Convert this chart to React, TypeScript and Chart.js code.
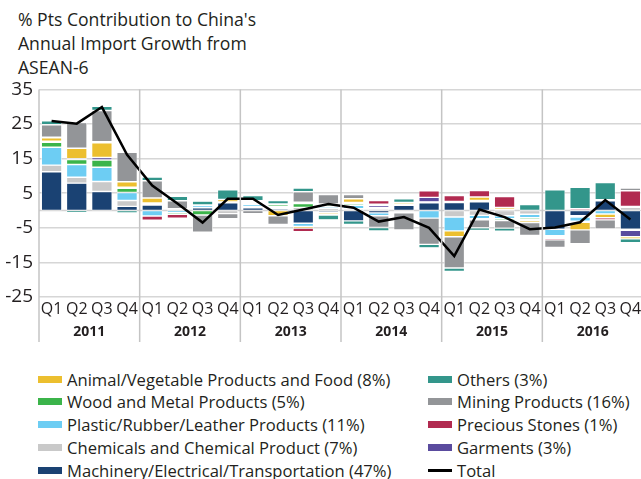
import React, { useEffect, useRef } from "react";
import { Chart, registerables } from "chart.js";

Chart.register(...registerables);

const quarters = [
  "Q1", "Q2", "Q3", "Q4", "Q1", "Q2", "Q3", "Q4", "Q1", "Q2", "Q3", "Q4",
  "Q1", "Q2", "Q3", "Q4", "Q1", "Q2", "Q3", "Q4", "Q1", "Q2", "Q3", "Q4",
];
const years = ["2011", "2012", "2013", "2014", "2015", "2016"];
const yTicks = { min: -25, max: 35, step: 10 };

const machinery = [11.2, 7.9, 5.5, 1.2, 1.6, 0.2, 0.8, 2.2, 0.8, 0.5, -3.7, -0.5, -3.0, -0.7, 1.5, 2.2, 2.3, 2.5, 0.4, 0, -5.4, -1.5, 2.8, -5.4];
const chemicals = [1.9, 1.7, 2.9, 1.7, 0.3, 0, 0, -0.9, 0.4, 0.4, 0.9, 0.6, 0.5, 0.5, 0.3, 0.3, -1.9, -1.4, -1.5, -1.1, 0, -0.4, 0, 0.9];
const plastic = [5.2, 3.7, 4.1, 2.3, -1.6, -0.6, 0.6, 0.3, 0.6, 0.3, -0.9, 0.5, 1.0, -0.8, -0.3, -2.2, -4.0, -1.0, -0.9, -1.0, -1.9, -1.2, -1.0, -0.3];
const wood = [1.4, 1.4, 2.1, 1.2, 0, -0.5, -1.3, 0, 0, 0.5, 1.1, 0.5, 0.5, 0.3, -0.4, 0, 0, -0.3, -0.5, -0.5, 0, -0.3, 0, 0.3];
const garments = [0.3, 0.3, 0.7, 0.3, 0.3, 0, 0.2, 0, 0.3, 0.2, 0.4, 0.3, 0.3, 0.6, 0, 1.3, 0.3, 0.4, 0, -0.4, -0.3, 0, 0.3, -1.9];
const animal = [1.0, 3.0, 4.3, 1.6, 1.4, 0.3, 0, 0.7, 0.4, -1.5, -0.5, -0.5, 1.1, 0.4, 0.5, 0, -1.7, 1.0, 0.5, -0.5, -0.4, -2.2, -1.1, -0.6];
const precious = [0.2, 0, 0.3, 0, -1.2, -1.1, 0, 0, 0.3, 0, -1.0, -0.3, 0, 1.1, 0, 1.9, 1.7, 1.9, 3.1, 0, -0.5, 0.5, -0.6, 4.5];
const mining = [3.6, 7.4, 9.0, 8.5, 5.0, 2.3, -5.0, -1.5, -0.9, -2.5, 3.0, 2.7, 1.2, -3.4, -4.9, -7.6, -9.0, -2.3, -2.2, -3.7, -2.2, -4.0, -2.6, 0.8];
const others = [1.1, -0.6, 1.2, -0.7, 1.1, 1.3, 1.1, 2.8, 1.5, 1.0, 1.1, -1.4, -1.0, -1.0, 1.1, -1.0, -1.0, -0.8, -0.9, 1.7, 6.0, 6.2, 5.0, -1.1];
const total = [25.9, 25.1, 29.9, 16.1, 7.2, 2.0, -3.5, 3.4, 3.4, -1.3, 0.3, 1.9, 0.8, -3.2, -1.9, -5.0, -13.2, 0.3, -1.9, -5.4, -4.9, -3.4, 3.0, -2.6];

const titleLines = ["% Pts Contribution to China's", "Annual Import Growth from", "ASEAN-6"];

const COLORS = {
  machinery: "#1a4273",
  chemicals: "#c9c9c9",
  plastic: "#6dcdf3",
  wood: "#3bb44a",
  garments: "#5a4b9e",
  animal: "#ecbf2f",
  precious: "#b12a50",
  mining: "#939598",
  others: "#33968b",
};

const LABELS = {
  animal: "Animal/Vegetable Products and Food (8%)",
  wood: "Wood and Metal Products (5%)",
  plastic: "Plastic/Rubber/Leather Products (11%)",
  chemicals: "Chemicals and Chemical Product (7%)",
  machinery: "Machinery/Electrical/Transportation (47%)",
  others: "Others (3%)",
  mining: "Mining Products (16%)",
  precious: "Precious Stones (1%)",
  garments: "Garments (3%)",
  total: "Total",
};

const leftLegend = ["animal", "wood", "plastic", "chemicals", "machinery"];
const rightLegend = ["others", "mining", "precious", "garments", "total"];

const FONT = "'Open Sans', sans-serif";
const TEXT = "#231f20";

const dividerPlugin = {
  id: "dividers",
  beforeDatasetsDraw(chart: any) {
    const { ctx, chartArea, scales } = chart;
    const y = scales.y;
    ctx.save();
    const y0 = y.getPixelForValue(0);
    ctx.strokeStyle = "#d2d2d2";
    ctx.lineWidth = 1.5;
    ctx.beginPath();
    ctx.moveTo(chartArea.left, y0);
    ctx.lineTo(chartArea.right, y0);
    ctx.stroke();
    ctx.restore();
  },
  afterDraw(chart: any) {
    const { ctx, chartArea, scales } = chart;
    const x = scales.x;
    const n = quarters.length;
    const step = x.getPixelForValue(1) - x.getPixelForValue(0);
    ctx.save();
    ctx.strokeStyle = "#c4c4c4";
    ctx.lineWidth = 1.5;
    for (let k = 0; k <= years.length; k++) {
      const idx = k * 4;
      const px = idx < n ? x.getPixelForValue(idx) - step / 2 : x.getPixelForValue(n - 1) + step / 2;
      ctx.beginPath();
      ctx.moveTo(px, chartArea.top);
      ctx.lineTo(px, chartArea.bottom + 45);
      ctx.stroke();
    }
    ctx.restore();
  },
};

export default function App() {
  const canvasRef = useRef<HTMLCanvasElement>(null);

  useEffect(() => {
    if (!canvasRef.current) return;
    const barSet = (key: string, data: number[]) => ({
      type: "bar" as const,
      label: LABELS[key],
      data,
      backgroundColor: COLORS[key],
      borderColor: "#ffffff",
      borderWidth: 0.7,
      borderSkipped: false,
      stack: "s",
      order: 1,
      xAxisID: "x",
      yAxisID: "y",
    });
    const chart = new Chart(canvasRef.current, {
      type: "bar",
      data: {
        labels: quarters,
        datasets: [
          barSet("machinery", machinery),
          barSet("chemicals", chemicals),
          barSet("plastic", plastic),
          barSet("wood", wood),
          barSet("garments", garments),
          barSet("animal", animal),
          barSet("precious", precious),
          barSet("mining", mining),
          barSet("others", others),
          {
            type: "line" as const,
            label: LABELS.total,
            data: total,
            borderColor: "#000000",
            backgroundColor: "#000000",
            borderWidth: 2.5,
            pointRadius: 0,
            tension: 0,
            stack: "total",
            order: 0,
            xAxisID: "x",
            yAxisID: "y",
          } as any,
        ],
      },
      options: {
        animation: false,
        responsive: false,
        maintainAspectRatio: false,
        layout: { padding: { top: 13, left: 0, right: 2, bottom: 0 } },
        datasets: { bar: { categoryPercentage: 1, barPercentage: 0.82 } },
        plugins: {
          legend: { display: false },
          title: { display: false },
          tooltip: { enabled: false },
        },
        scales: {
          x: {
            type: "category",
            stacked: true,
            position: "bottom",
            offset: true,
            grid: { display: false, drawTicks: false },
            border: { display: false },
            ticks: {
              padding: 3,
              color: TEXT,
              font: { family: FONT, size: 16 },
              maxRotation: 0,
              autoSkip: false,
            },
            afterFit: (s: any) => {
              s.height = 24;
            },
          },
          x2: {
            type: "category",
            labels: years,
            position: "bottom",
            offset: true,
            grid: { display: false, drawTicks: false },
            border: { display: false },
            ticks: {
              padding: 3,
              color: TEXT,
              font: { family: FONT, size: 14, weight: "bold" },
              maxRotation: 0,
              autoSkip: false,
            },
            afterFit: (s: any) => {
              s.height = 26;
            },
          },
          y: {
            stacked: true,
            min: yTicks.min,
            max: yTicks.max,
            ticks: {
              stepSize: yTicks.step,
              padding: 6,
              color: TEXT,
              font: { family: FONT, size: 19 },
            },
            grid: { color: "#d6d6d6", lineWidth: 1.5, drawTicks: false },
            border: { display: false },
            afterFit: (s: any) => {
              s.width = 39;
            },
          },
        },
      } as any,
      plugins: [dividerPlugin],
    });
    return () => chart.destroy();
  }, []);

  const legendItem = (key: string, col: number, row: number) => (
    <div
      key={key}
      style={{
        position: "absolute",
        left: col === 0 ? 38 : 428,
        top: 369 + row * 22.8,
        height: 20,
        display: "flex",
        alignItems: "center",
        whiteSpace: "nowrap",
        fontFamily: FONT,
        fontSize: 16.6,
        color: TEXT,
      }}
    >
      <span
        style={{
          display: "inline-block",
          width: 24,
          height: key === "total" ? 3 : 7,
          background: key === "total" ? "#000" : COLORS[key],
          marginRight: 5,
        }}
      />
      <span>{LABELS[key]}</span>
    </div>
  );

  return (
    <div
      style={{
        position: "fixed",
        left: 0,
        top: 0,
        width: 641,
        height: 479,
        overflow: "hidden",
        background: "#fff",
      }}
    >
      <div
        style={{
          position: "absolute",
          left: 18,
          top: 7,
          fontFamily: FONT,
          fontSize: 17.6,
          lineHeight: "24px",
          color: TEXT,
        }}
      >
        {titleLines.map((t) => (
          <div key={t}>{t}</div>
        ))}
      </div>
      <canvas
        ref={canvasRef}
        width={645}
        height={275}
        style={{ position: "absolute", left: 0, top: 72, width: 645, height: 275 }}
      />
      {leftLegend.map((k, i) => legendItem(k, 0, i))}
      {rightLegend.map((k, i) => legendItem(k, 1, i))}
    </div>
  );
}
